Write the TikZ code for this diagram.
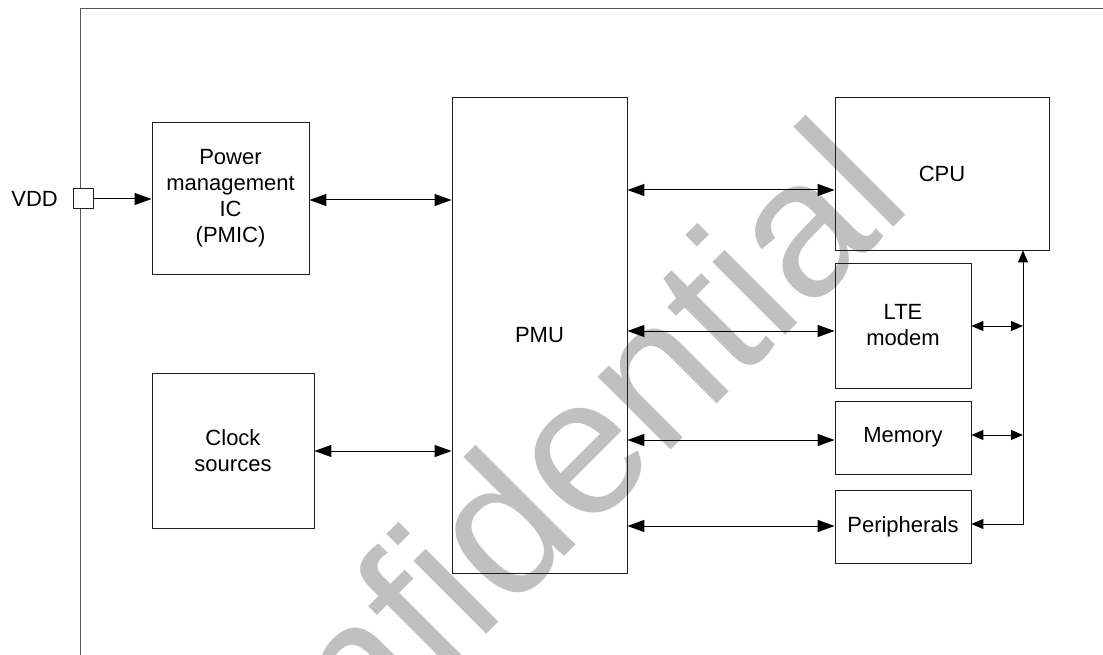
\documentclass[tikz,border=0pt]{standalone}
\usepackage{fontspec}
\setmainfont{Liberation Sans}
\usetikzlibrary{arrows.meta}
\definecolor{wm}{RGB}{192,192,192}
\definecolor{ln}{RGB}{30,30,30}
\begin{document}
\begin{tikzpicture}[x=1pt,y=-1pt,
  blk/.style={draw=ln, line width=0.8pt, inner sep=0pt, align=center,
    font=\fontsize{22}{26}\selectfont},
  conn/.style={draw=black, line width=1pt},
  bigboth/.style={{Triangle[length=17pt,width=12pt]}-{Triangle[length=17pt,width=12pt]}},
  bigend/.style={-{Triangle[length=17pt,width=12pt]}},
  smallboth/.style={{Triangle[length=12pt,width=10pt]}-{Triangle[length=12pt,width=10pt]}},
  frame/.style={draw=black!65, line width=0.9pt}
]
\useasboundingbox (0,0) rectangle (1103,655);
% watermark
\node[text=wm, rotate=45, anchor=base east, inner sep=0pt,
  font=\fontsize{195}{195}\selectfont] (wmark) at (915,206) {Confidential};
% outer frame
\coordinate (ftl) at (80,8);
\coordinate (fbl) at (80,655);
\coordinate (ftr) at (1103,8);
\draw[frame] (fbl) -- (ftl) -- (ftr);
% blocks
\node[blk, minimum width=157pt, minimum height=152pt] (pmic) at (230.5,198) {Power\\management\\IC\\(PMIC)};
\node[blk, minimum width=162pt, minimum height=155pt] (clk) at (233,450.5) {Clock\\sources};
\node[blk, minimum width=175pt, minimum height=476pt] (pmu) at (539.5,335) {PMU};
\node[blk, minimum width=214pt, minimum height=153pt] (cpu) at (942,173.5) {CPU};
\node[blk, minimum width=136pt, minimum height=125pt] (lte) at (903,325.5) {LTE\\modem};
\node[blk, minimum width=136pt, minimum height=73pt] (mem) at (903,437.5) {Memory};
\node[blk, minimum width=136pt, minimum height=73pt] (per) at (903,526.5) {Peripherals};
\node[draw=ln, line width=0.8pt, fill=white, minimum size=20pt, inner sep=0pt] (pin) at (83.5,198.5) {};
\node[anchor=east, inner sep=0pt, font=\fontsize{22}{26}\selectfont] (vdd) at (58,198.5) {VDD};
% levels
\coordinate (yv) at (0,199);
\coordinate (yp) at (0,200);
\coordinate (yc) at (0,451);
\coordinate (y1) at (0,190);
\coordinate (y2) at (0,331);
\coordinate (y3) at (0,440);
\coordinate (y4) at (0,526);
\coordinate (b2) at (0,326);
\coordinate (b3) at (0,435);
\coordinate (b4) at (0,524);
\coordinate (bus) at (1023,0);
% connectors
\draw[conn, bigend] (pin.east |- yv) -- (pmic.west |- yv);
\draw[conn, bigboth] (pmic.east |- yp) -- (pmu.west |- yp);
\draw[conn, bigboth] (clk.east |- yc) -- (pmu.west |- yc);
\draw[conn, bigboth] (pmu.east |- y1) -- (cpu.west |- y1);
\draw[conn, bigboth] (pmu.east |- y2) -- (lte.west |- y2);
\draw[conn, bigboth] (pmu.east |- y3) -- (mem.west |- y3);
\draw[conn, bigboth] (pmu.east |- y4) -- (per.west |- y4);
\draw[conn, smallboth] (per.east |- b4) -| (bus |- cpu.south);
\draw[conn, smallboth] (lte.east |- b2) -- (bus |- b2);
\draw[conn, smallboth] (mem.east |- b3) -- (bus |- b3);
\end{tikzpicture}
\end{document}
